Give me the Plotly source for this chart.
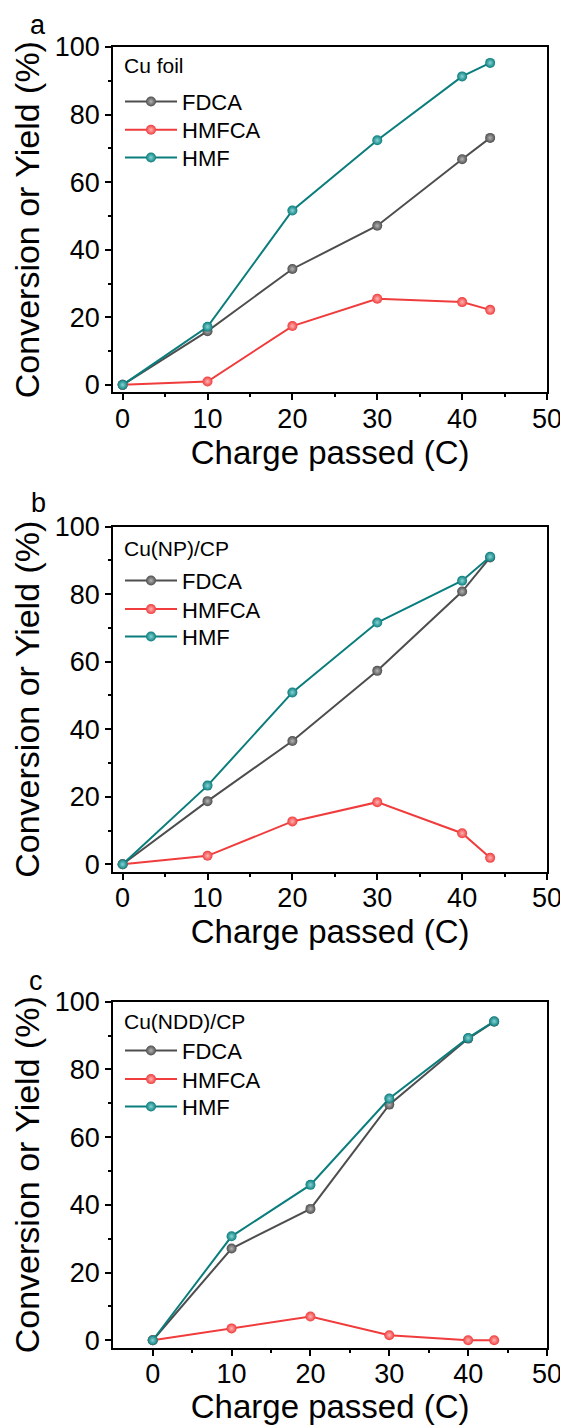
import plotly.graph_objects as go

# ---------------- data ----------------
charge = [0, 10, 20, 30, 40, 43.3]

foil_fdca = [0, 15.9, 34.3, 47.1, 66.8, 73.1]
foil_hmfca = [0, 1.0, 17.4, 25.5, 24.5, 22.2]
foil_hmf = [0, 17.2, 51.6, 72.4, 91.3, 95.3]

np_fdca = [0, 18.7, 36.5, 57.3, 80.8, 90.9]
np_hmfca = [0, 2.5, 12.7, 18.4, 9.2, 1.9]
np_hmf = [0, 23.3, 50.9, 71.6, 84.0, 91.1]

ndd_fdca = [0, 27.1, 38.8, 69.6, 89.1, 94.1]
ndd_hmfca = [0, 3.5, 7.0, 1.5, 0, 0]
ndd_hmf = [0, 30.7, 45.9, 71.4, 89.3, 94.2]

series_names = ["FDCA", "HMFCA", "HMF"]
panel_titles = ["Cu foil", "Cu(NP)/CP", "Cu(NDD)/CP"]
panel_letters = ["a", "b", "c"]
x_ranges = [[-1.1, 50], [-1.1, 50], [-5, 50]]
y_range = [-2.2, 100]
x_ticks = [0, 10, 20, 30, 40, 50]
x_minor = [5, 15, 25, 35, 45]
y_ticks = [0, 20, 40, 60, 80, 100]
y_minor = [10, 30, 50, 70, 90]

colors = {"FDCA": "#4e4e4e", "HMFCA": "#f03c3c", "HMF": "#0b7d7d"}
centers = {"FDCA": "#b4b4b4", "HMFCA": "#ffb4b4", "HMF": "#86d4d4"}

panels = [
    {"FDCA": foil_fdca, "HMFCA": foil_hmfca, "HMF": foil_hmf},
    {"FDCA": np_fdca, "HMFCA": np_hmfca, "HMF": np_hmf},
    {"FDCA": ndd_fdca, "HMFCA": ndd_hmfca, "HMF": ndd_hmf},
]

# ---------------- geometry (viewport pixels) ----------------
OFF = 8                      # default body margin of the html page
W, H = 568 - OFF, 1425 - OFF  # figure size so the page fits the window
FONT = "Liberation Sans, Arial, sans-serif"


def px(X):
    return (X - OFF) / W


def py(Y):
    return 1 - (Y - OFF) / H


frames = [(47.0, 392.3), (526.7, 871.7), (1001.7, 1347.7)]
x_left, x_right = 113.3, 547.0
legend_rows = [(65.7, [101.7, 130.0, 157.7]),
               (548.3, [580.7, 609.3, 636.7]),
               (1021.7, [1050.7, 1079.3, 1106.7])]
letter_pos = [(38, 25), (38, 503), (36, 981)]

fig = go.Figure()

for i, data in enumerate(panels):
    ax = "" if i == 0 else str(i + 1)
    for j, name in enumerate(series_names):
        k = 3 * i + j + 1
        leg = "legend" if k == 1 else f"legend{k}"
        fig.add_trace(go.Scatter(
            x=charge, y=data[name], name=name, mode="lines+markers",
            xaxis="x" + ax, yaxis="y" + ax, legend=leg,
            line=dict(color=colors[name], width=2),
            marker=dict(size=10, color=colors[name], symbol="circle",
                        gradient=dict(type="radial", color=centers[name]),
                        line=dict(width=0)),
            cliponaxis=False,
        ))

layout = dict(
    width=W, height=H,
    margin=dict(l=0, r=0, t=0, b=0, pad=0, autoexpand=False),
    paper_bgcolor="white", plot_bgcolor="white",
    font=dict(family=FONT, color="black"),
    showlegend=True,
)

annotations = []
for i in range(3):
    ax = "" if i == 0 else str(i + 1)
    top, bot = frames[i]
    layout["xaxis" + ax] = dict(
        domain=[px(x_left), px(x_right)], anchor="y" + ax, range=x_ranges[i],
        automargin=False,
        tickmode="array", tickvals=x_ticks,
        ticks="outside", ticklen=6, tickwidth=2, tickcolor="black",
        ticklabelstandoff=-5,
        minor=dict(tickvals=x_minor, ticks="outside", ticklen=3,
                   tickwidth=2, tickcolor="black"),
        showline=True, linewidth=2, linecolor="black", mirror=True,
        showgrid=False, zeroline=False,
        tickfont=dict(size=27, family=FONT, color="black"),
        title=dict(text="Charge passed (C)", font=dict(size=33, family=FONT, color="black"),
                   standoff=4),
    )
    layout["yaxis" + ax] = dict(
        domain=[py(bot), py(top)], anchor="x" + ax, range=y_range,
        automargin=False,
        tickmode="array", tickvals=y_ticks,
        ticks="outside", ticklen=6, tickwidth=2, tickcolor="black",
        minor=dict(tickvals=y_minor, ticks="outside", ticklen=3,
                   tickwidth=2, tickcolor="black"),
        showline=True, linewidth=2, linecolor="black", mirror=True,
        showgrid=False, zeroline=False,
        tickfont=dict(size=27, family=FONT, color="black"),
        title=dict(text="Conversion or Yield (%)", font=dict(size=34, family=FONT, color="black"),
                   standoff=6),
    )
    title_y, item_ys = legend_rows[i]
    for j in range(3):
        k = 3 * i + j + 1
        leg = "legend" if k == 1 else f"legend{k}"
        layout[leg] = dict(
            x=px(120), xanchor="left",
            y=py(item_ys[j]), yanchor="middle",
            bgcolor="rgba(0,0,0,0)", borderwidth=0,
            font=dict(size=22, family=FONT, color="black"),
            itemwidth=52,
        )
    annotations.append(dict(
        text=panel_titles[i], xref="paper", yref="paper",
        x=px(122), y=py(title_y), xanchor="left", yanchor="middle",
        showarrow=False, font=dict(size=21, family=FONT, color="black"),
    ))
    lx, ly = letter_pos[i]
    annotations.append(dict(
        text=panel_letters[i], xref="paper", yref="paper",
        x=px(lx), y=py(ly), xanchor="center", yanchor="middle",
        showarrow=False, font=dict(size=27, family=FONT, color="black"),
    ))

layout["annotations"] = annotations
fig.update_layout(**layout)

fig.write_html("out.html")
